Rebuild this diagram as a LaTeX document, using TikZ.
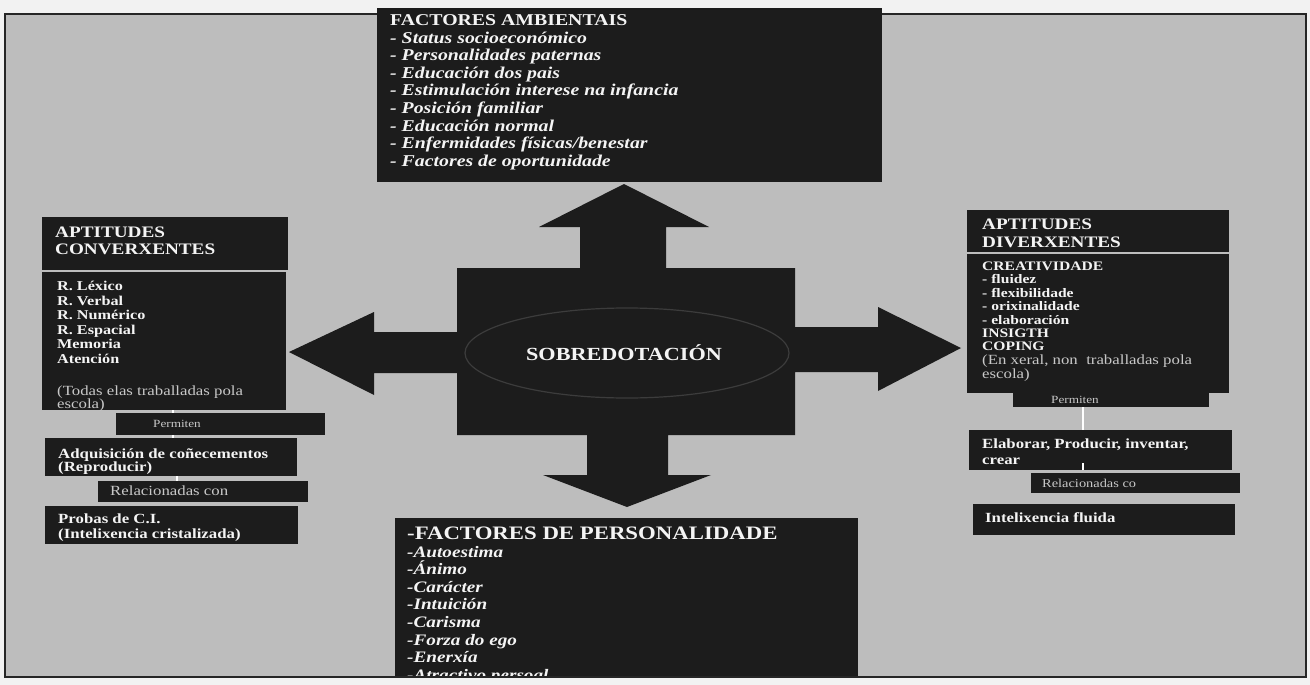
\documentclass[tikz,border=0pt]{standalone}
\usepackage{fontspec}
\setmainfont{Liberation Serif}[FakeStretch=1.2]
\usetikzlibrary{shapes.geometric}
\newcommand\fs[2]{\fontsize{#1}{#2}\selectfont}
\definecolor{boxc}{HTML}{1C1C1C}
\definecolor{bgc}{HTML}{BDBDBD}
\definecolor{outc}{HTML}{F2F2F2}
\definecolor{txtc}{HTML}{F4F4F4}
\definecolor{dimc}{HTML}{C8C8C8}
\definecolor{ellc}{HTML}{3C3C3C}
\begin{document}
\begin{tikzpicture}[x=1pt,y=-1pt,
  blk/.style={fill=boxc, draw=none, inner sep=0pt, anchor=north west},
  txt/.style={inner sep=0pt, anchor=base west, align=left, text=txtc},
  dim/.style={txt, text=dimc},
  conn/.style={draw=white, line width=1.5pt}]
\useasboundingbox (0,0) rectangle (1310,685);
\fill[outc] (0,0) rectangle (1310,685);
\fill[bgc] (5,14) rectangle (1306,677);
% central cross
\fill[boxc] (624,184) -- (709,227) -- (666,227) -- (666,268) -- (795,268) -- (795,327)
  -- (878,327) -- (878,307) -- (961,348) -- (878,391) -- (878,372) -- (795,372)
  -- (795,435) -- (668,435) -- (668,475) -- (711,475) -- (627,507) -- (543,475)
  -- (587,475) -- (587,435) -- (457,435) -- (457,373) -- (374,373) -- (374,395)
  -- (289,352) -- (374,312) -- (374,332) -- (457,332) -- (457,268) -- (580,268)
  -- (580,227) -- (539,227) -- cycle;
\node[draw=ellc, line width=1.2pt, ellipse, minimum width=324pt, minimum height=90pt, inner sep=0pt] (ell) at (627,353) {};
\node[text=txtc, inner sep=0pt, font=\fs{18.5}{20}\bfseries] (sob) at (624,353) {SOBREDOTACIÓN};
% left column
\node[blk, minimum width=246pt, minimum height=53pt] (lhead) at (42,217) {};
\node[txt, font=\fs{16}{17}\bfseries] (lheadt) at (55,254.5) {APTITUDES\\CONVERXENTES};
\node[blk, minimum width=244pt, minimum height=138pt] (lbody) at (42,272) {};
\node[txt, font=\fs{13.5}{14.6}\bfseries] (lbodyt) at (57,363.5) {R. Léxico\\R. Verbal\\R. Numérico\\R. Espacial\\Memoria\\Atención};
\node[dim, font=\fs{14}{13}] (lbodyn) at (57,408) {(Todas elas traballadas pola\\escola)};
\node[blk, minimum width=209pt, minimum height=22pt] (lperm) at (116,413) {};
\node[dim, anchor=center, font=\fs{11}{12}] (lpermt) at (177,424) {Permiten};
\node[blk, minimum width=252pt, minimum height=38pt] (ladq) at (45,438) {};
\node[txt, font=\fs{14}{13.5}\bfseries] (ladqt) at (58,471.5) {Adquisición de coñecementos\\(Reproducir)};
\node[blk, minimum width=210pt, minimum height=21pt] (lrel) at (98,481) {};
\node[dim, font=\fs{14}{14}] (lrelt) at (110,495.5) {Relacionadas con};
\node[blk, minimum width=253pt, minimum height=38pt] (lpro) at (45,506) {};
\node[txt, font=\fs{14}{15}\bfseries] (lprot) at (58,538) {Probas de C.I.\\(Intelixencia cristalizada)};
\coordinate (lx) at (173,0);
\coordinate (lx2) at (177,0);
\draw[conn] (lx |- lbody.south) -- (lx |- lperm.north);
\draw[conn] (lx |- lperm.south) -- (lx |- ladq.north);
\draw[conn] (lx2 |- ladq.south) -- (lx2 |- lrel.north);
% right column
\node[blk, minimum width=262pt, minimum height=42pt] (rhead) at (967,210) {};
\node[txt, font=\fs{16}{18}\bfseries] (rheadt) at (982,247.5) {APTITUDES\\DIVERXENTES};
\node[blk, minimum width=262pt, minimum height=139pt] (rbody) at (967,254) {};
\node[blk, minimum width=196pt, minimum height=15pt] (rperm) at (1013,392) {};
\node[txt, font=\fs{13}{13.4}\bfseries] (rbodyt) at (982,350.9) {CREATIVIDADE\\- fluidez\\- flexibilidade\\- orixinalidade\\- elaboración\\INSIGTH\\COPING};
\node[dim, font=\fs{14}{12.5}] (rbodyn) at (982,378.5) {(En xeral, non\ \ traballadas pola\\escola)};
\node[dim, anchor=center, font=\fs{11}{12}] (rpermt) at (1075,400) {Permiten};
\node[blk, minimum width=263pt, minimum height=40pt] (relab) at (969,430) {};
\node[txt, font=\fs{14}{16}\bfseries] (relabt) at (982,464) {Elaborar, Producir, inventar,\\crear};
\node[blk, minimum width=209pt, minimum height=20pt] (rrel) at (1031,473) {};
\node[dim, font=\fs{12}{12}] (rrelt) at (1042,487) {Relacionadas co};
\node[blk, minimum width=262pt, minimum height=31pt] (rint) at (973,504) {};
\node[txt, font=\fs{14}{15}\bfseries] (rintt) at (985,522) {Intelixencia fluida};
\coordinate (rx) at (1083,0);
\draw[conn] (rx |- rperm.south) -- (rx |- relab.north);
\draw[conn] (rx |- relab.south) -- ++(0,-7);
% bottom box
\begin{scope}
\clip (5,14) rectangle (1306,677);
\node[blk, minimum width=463pt, minimum height=170pt] (pers) at (395,518) {};
\node[txt, font=\fs{19}{20}\bfseries] (persh) at (407,539) {-FACTORES DE PERSONALIDADE};
\node[txt, font=\fs{16}{17.6}\bfseries\itshape] (persl) at (407,680.2) {-Autoestima\\-Ánimo\\-Carácter\\-Intuición\\-Carisma\\-Forza do ego\\-Enerxía\\-Atractivo persoal};
\end{scope}
\draw[line width=1.6pt, draw=black!85] (5,14) rectangle (1306,677);
% top box (lies over the frame)
\node[blk, minimum width=505pt, minimum height=174pt] (amb) at (377,8) {};
\node[txt, font=\fs{16.5}{17.6}\bfseries] (ambh) at (390,25.5) {FACTORES AMBIENTAIS};
\node[txt, font=\fs{16.5}{17.6}\bfseries\itshape] (ambl) at (390,166.2) {- Status socioeconómico\\- Personalidades paternas\\- Educación dos pais\\- Estimulación interese na infancia\\- Posición familiar\\- Educación normal\\- Enfermidades físicas/benestar\\- Factores de oportunidade};
\end{tikzpicture}
\end{document}
